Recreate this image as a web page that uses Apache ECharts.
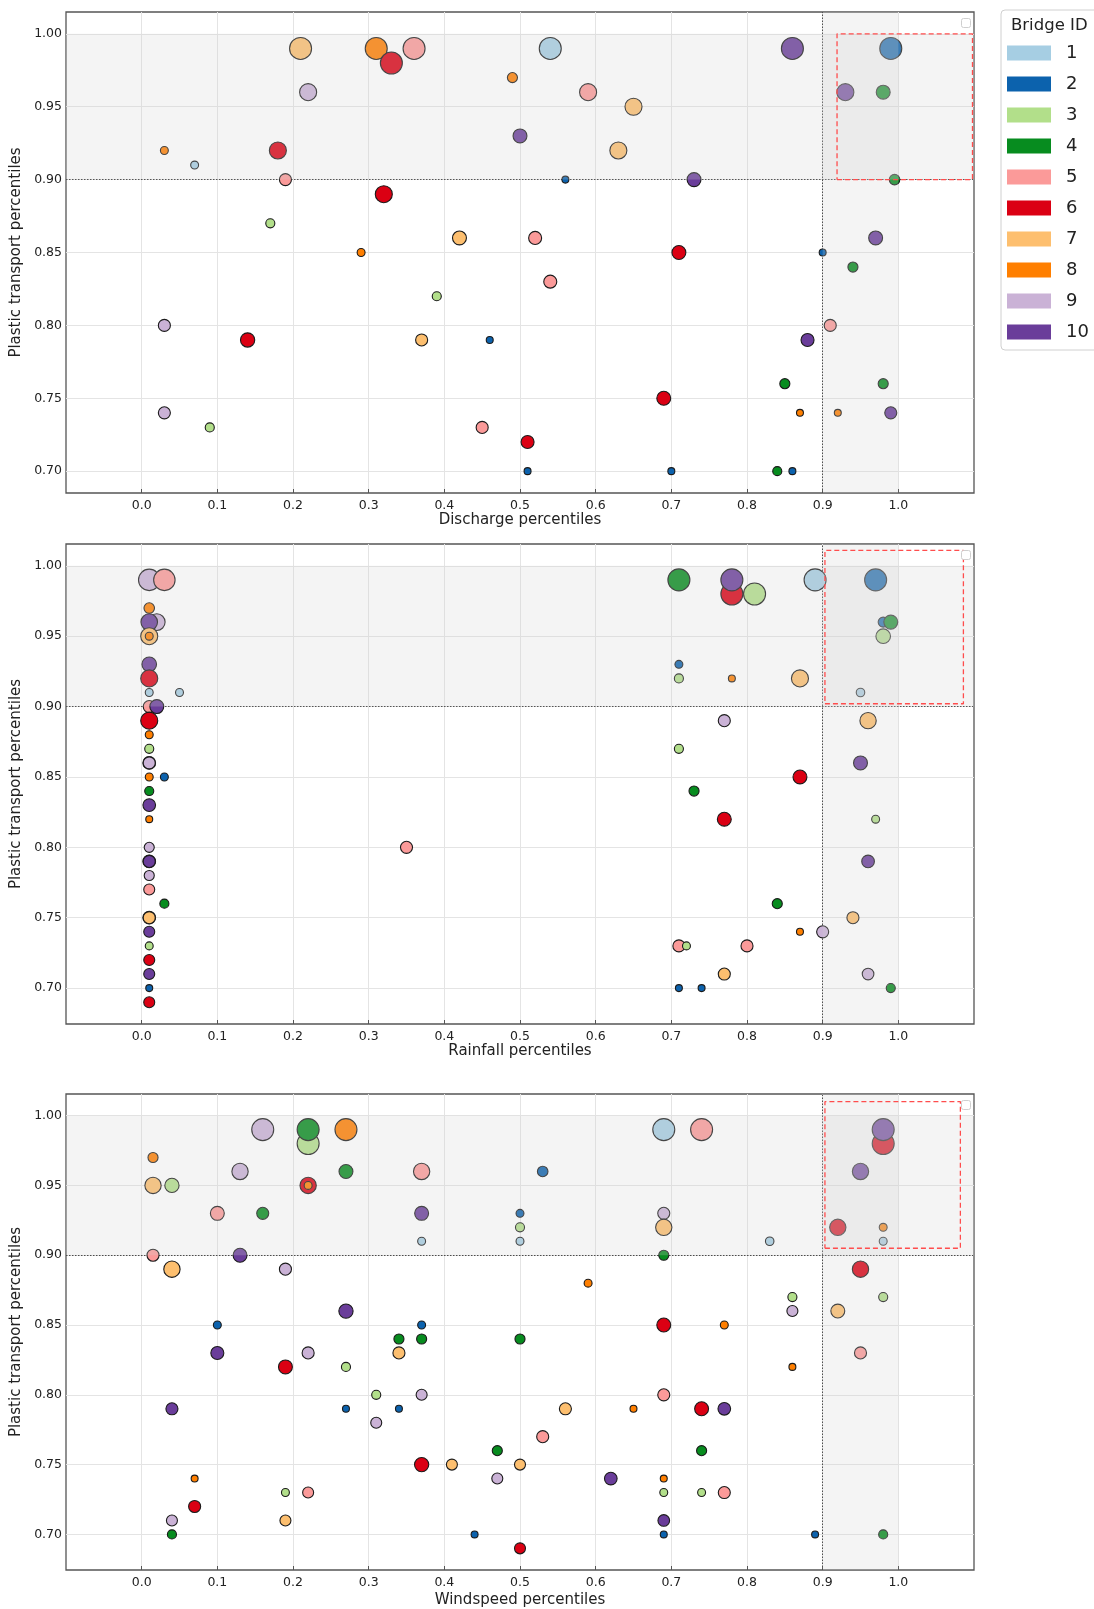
<!DOCTYPE html>
<html>
<head>
<meta charset="utf-8">
<script src="https://cdn.jsdelivr.net/npm/echarts@6/dist/echarts.min.js"></script>
<style>
  html, body { margin: 0; background: #fff; }
  #chart { width: 1094px; height: 1609px; }
</style>
</head>
<body>
<div id="chart"></div>
<script>
// Bridge colours (Paired-like palette, as in the legend)
const bridgeIds = ["1", "2", "3", "4", "5", "6", "7", "8", "9", "10"];
const bridgeColors = ["#a6cee3", "#0c62ad", "#b2df8a", "#078c1f", "#fb9a99",
                      "#db0013", "#fdbf6f", "#ff7f00", "#cab2d6", "#6a3d9a"];

const xTicks = [0.0, 0.1, 0.2, 0.3, 0.4, 0.5, 0.6, 0.7, 0.8, 0.9, 1.0];
const yTicks = [0.70, 0.75, 0.80, 0.85, 0.90, 0.95, 1.00];
const threshold = 0.9;
const bandTop = 1.0;

// [percentile, plastic transport percentile, transport load (bubble area), bridge id]
const dischargePts = [
  [0.21, 0.99, 100, 7], [0.31, 0.99, 100, 8], [0.33, 0.98, 100, 6], [0.36, 0.99, 100, 5],
  [0.54, 0.99, 100, 1], [0.86, 0.99, 100, 10], [0.99, 0.99, 100, 2], [0.49, 0.97, 21, 8],
  [0.22, 0.96, 60, 9], [0.59, 0.96, 60, 5], [0.93, 0.96, 60, 10], [0.98, 0.96, 40, 4],
  [0.65, 0.95, 60, 7], [0.50, 0.93, 40, 10], [0.03, 0.92, 13, 8], [0.18, 0.92, 60, 6],
  [0.63, 0.92, 60, 7], [0.07, 0.91, 13, 1], [0.19, 0.90, 30, 5], [0.56, 0.90, 10, 2],
  [0.73, 0.90, 40, 10], [0.995, 0.90, 23, 4], [0.32, 0.89, 60, 6], [0.17, 0.87, 17, 3],
  [0.42, 0.86, 40, 7], [0.52, 0.86, 35, 5], [0.97, 0.86, 40, 10], [0.29, 0.85, 13, 8],
  [0.71, 0.85, 40, 6], [0.90, 0.85, 10, 2], [0.94, 0.84, 21, 4], [0.54, 0.83, 35, 5],
  [0.39, 0.82, 17, 3], [0.03, 0.80, 30, 9], [0.91, 0.80, 30, 5], [0.14, 0.79, 42, 6],
  [0.37, 0.79, 30, 7], [0.46, 0.79, 10, 2], [0.88, 0.79, 35, 10], [0.85, 0.76, 21, 4],
  [0.98, 0.76, 21, 4], [0.69, 0.75, 40, 6], [0.03, 0.74, 30, 9], [0.87, 0.74, 10, 8],
  [0.92, 0.74, 10, 8], [0.99, 0.74, 30, 10], [0.09, 0.73, 17, 3], [0.45, 0.73, 30, 5],
  [0.51, 0.72, 35, 6], [0.51, 0.70, 10, 2], [0.70, 0.70, 10, 2], [0.84, 0.70, 17, 4],
  [0.86, 0.70, 10, 2]
];

const rainfallPts = [
  [0.01, 0.99, 95, 9], [0.03, 0.99, 95, 5], [0.01, 0.97, 23, 8], [0.02, 0.96, 57, 9],
  [0.01, 0.96, 57, 10], [0.01, 0.95, 60, 7], [0.01, 0.95, 13, 8], [0.01, 0.93, 44, 10],
  [0.01, 0.92, 60, 6], [0.01, 0.91, 13, 1], [0.05, 0.91, 13, 1], [0.01, 0.90, 30, 5],
  [0.02, 0.90, 40, 10], [0.01, 0.89, 60, 6], [0.01, 0.88, 13, 8], [0.01, 0.87, 17, 3],
  [0.01, 0.86, 33, 9], [0.01, 0.86, 30, 9], [0.01, 0.85, 13, 8], [0.03, 0.85, 13, 2],
  [0.01, 0.84, 17, 4], [0.01, 0.83, 33, 10], [0.01, 0.82, 10, 8], [0.01, 0.80, 21, 9],
  [0.01, 0.79, 33, 10], [0.01, 0.79, 30, 10], [0.01, 0.78, 21, 9], [0.01, 0.77, 25, 5],
  [0.03, 0.76, 17, 4], [0.01, 0.75, 33, 7], [0.01, 0.75, 30, 7], [0.01, 0.74, 25, 10],
  [0.01, 0.73, 13, 3], [0.01, 0.72, 25, 6], [0.01, 0.71, 25, 10], [0.01, 0.70, 10, 2],
  [0.01, 0.69, 25, 6], [0.35, 0.80, 30, 5],
  [0.71, 0.99, 100, 4], [0.78, 0.98, 100, 6], [0.78, 0.99, 100, 10], [0.81, 0.98, 100, 3],
  [0.89, 0.99, 100, 1], [0.97, 0.99, 100, 2], [0.98, 0.96, 21, 2], [0.99, 0.96, 40, 4],
  [0.98, 0.95, 44, 3], [0.71, 0.93, 13, 2], [0.71, 0.92, 17, 3], [0.78, 0.92, 10, 8],
  [0.87, 0.92, 60, 7], [0.95, 0.91, 15, 1], [0.77, 0.89, 30, 9], [0.96, 0.89, 55, 7],
  [0.71, 0.87, 17, 3], [0.95, 0.86, 40, 10], [0.87, 0.85, 40, 6], [0.73, 0.84, 21, 4],
  [0.77, 0.82, 40, 6], [0.97, 0.82, 13, 3], [0.96, 0.79, 33, 10], [0.84, 0.76, 21, 4],
  [0.94, 0.75, 30, 7], [0.87, 0.74, 10, 8], [0.90, 0.74, 30, 9], [0.71, 0.73, 30, 5],
  [0.72, 0.73, 13, 3], [0.80, 0.73, 30, 5], [0.77, 0.71, 30, 7], [0.96, 0.71, 28, 9],
  [0.71, 0.70, 10, 2], [0.74, 0.70, 10, 2], [0.99, 0.70, 17, 4]
];

const windspeedPts = [
  [0.015, 0.97, 21, 8], [0.015, 0.95, 55, 7], [0.04, 0.95, 42, 3], [0.16, 0.99, 100, 9],
  [0.22, 0.98, 100, 3], [0.22, 0.99, 100, 4], [0.27, 0.99, 100, 8], [0.13, 0.96, 55, 9],
  [0.27, 0.96, 40, 4], [0.37, 0.96, 55, 5], [0.22, 0.95, 55, 6], [0.22, 0.95, 13, 8],
  [0.10, 0.93, 40, 5], [0.16, 0.93, 30, 4], [0.37, 0.93, 40, 10], [0.50, 0.93, 13, 2],
  [0.50, 0.92, 17, 3], [0.37, 0.91, 13, 1], [0.50, 0.91, 13, 1], [0.015, 0.90, 30, 5],
  [0.13, 0.90, 40, 10], [0.04, 0.89, 55, 7], [0.19, 0.89, 30, 9], [0.27, 0.86, 42, 10],
  [0.10, 0.85, 13, 2], [0.37, 0.85, 13, 2], [0.34, 0.84, 21, 4], [0.37, 0.84, 21, 4],
  [0.50, 0.84, 21, 4], [0.10, 0.83, 35, 10], [0.22, 0.83, 30, 9], [0.34, 0.83, 30, 7],
  [0.19, 0.82, 40, 6], [0.27, 0.82, 17, 3], [0.31, 0.80, 17, 3], [0.37, 0.80, 25, 9],
  [0.04, 0.79, 30, 10], [0.27, 0.79, 10, 2], [0.34, 0.79, 10, 2], [0.31, 0.78, 25, 9],
  [0.47, 0.76, 21, 4], [0.37, 0.75, 42, 6], [0.41, 0.75, 25, 7], [0.50, 0.75, 25, 7],
  [0.47, 0.74, 25, 9], [0.07, 0.74, 10, 8], [0.19, 0.73, 13, 3], [0.22, 0.73, 25, 5],
  [0.07, 0.72, 30, 6], [0.04, 0.71, 25, 9], [0.19, 0.71, 25, 7], [0.04, 0.70, 17, 4],
  [0.44, 0.70, 10, 2], [0.50, 0.69, 25, 6],
  [0.53, 0.96, 23, 2], [0.69, 0.99, 100, 1], [0.74, 0.99, 100, 5], [0.69, 0.93, 30, 9],
  [0.69, 0.92, 55, 7], [0.83, 0.91, 15, 1], [0.69, 0.90, 21, 4], [0.59, 0.88, 13, 8],
  [0.86, 0.87, 17, 3], [0.86, 0.86, 25, 9], [0.69, 0.85, 40, 6], [0.77, 0.85, 13, 8],
  [0.86, 0.82, 10, 8], [0.69, 0.80, 30, 5], [0.56, 0.79, 30, 7], [0.65, 0.79, 10, 8],
  [0.74, 0.79, 40, 6], [0.77, 0.79, 33, 10], [0.53, 0.77, 30, 5], [0.74, 0.76, 21, 4],
  [0.62, 0.74, 33, 10], [0.69, 0.74, 10, 8], [0.69, 0.73, 13, 3], [0.74, 0.73, 13, 3],
  [0.77, 0.73, 30, 5], [0.69, 0.71, 28, 10], [0.69, 0.70, 10, 2], [0.89, 0.70, 10, 2],
  [0.98, 0.70, 17, 4],
  [0.98, 0.98, 100, 6], [0.98, 0.99, 100, 10], [0.95, 0.96, 55, 10], [0.92, 0.92, 55, 6],
  [0.98, 0.92, 13, 8], [0.98, 0.91, 13, 1], [0.95, 0.89, 55, 6], [0.98, 0.87, 17, 3],
  [0.92, 0.86, 40, 7], [0.95, 0.83, 30, 5]
];

// highlighted extreme-event box per panel: [x0, x1, y0, y1]
const dischargeBox = [0.919, 1.098, 0.900, 1.000];
const rainfallBox = [0.903, 1.086, 0.902, 1.011];
const windspeedBox = [0.903, 1.082, 0.905, 1.010];

const xLabels = ["Discharge percentiles", "Rainfall percentiles", "Windspeed percentiles"];
const yLabel = "Plastic transport percentiles";
const yRanges = [[0.685, 1.015], [0.6745, 1.0155], [0.6745, 1.0155]];

const FONT = "DejaVu Sans";
const panels = [
  { pts: dischargePts, box: dischargeBox, top: 12, height: 481, nameGap: 20 },
  { pts: rainfallPts, box: rainfallBox, top: 544, height: 480, nameGap: 20 },
  { pts: windspeedPts, box: windspeedBox, top: 1094, height: 481, nameGap: 23 },
];

const grid = [], xAxis = [], yAxis = [], series = [], graphic = [];

panels.forEach((p, i) => {
  grid.push({
    left: 66, width: 908, top: p.top, height: p.height,
    show: true, borderColor: "#555", borderWidth: 1.3, backgroundColor: "#fff",
  });
  xAxis.push({
    gridIndex: i, type: "value", min: -0.1, max: 1.1, interval: 0.1,
    name: xLabels[i], nameLocation: "middle", nameGap: p.nameGap,
    nameTextStyle: { fontFamily: FONT, fontSize: 15, color: "#222" },
    axisLine: { show: false },
    axisTick: { show: true, inside: true, length: 4, lineStyle: { color: "#555" },
                customValues: xTicks },
    axisLabel: { fontFamily: FONT, fontSize: 12.5, color: "#222", margin: 6,
                 customValues: xTicks, formatter: v => v.toFixed(1) },
    splitLine: { show: true, lineStyle: { color: "#e4e4e4", width: 1 } },
  });
  yAxis.push({
    gridIndex: i, type: "value", min: yRanges[i][0], max: yRanges[i][1],
    name: yLabel, nameLocation: "middle", nameGap: 37, nameRotate: 90,
    nameTextStyle: { fontFamily: FONT, fontSize: 15, color: "#222" },
    axisLine: { show: false },
    axisTick: { show: true, inside: true, length: 4, lineStyle: { color: "#555" },
                customValues: yTicks },
    axisLabel: { fontFamily: FONT, fontSize: 12.5, color: "#222", margin: 4,
                 customValues: yTicks, formatter: v => v.toFixed(2) },
    splitLine: { show: false },
  });

  // bubbles
  series.push({
    type: "scatter", xAxisIndex: i, yAxisIndex: i, z: 2,
    symbolSize: v => Math.sqrt(v[2]) * 2.2,
    data: p.pts.map(d => ({
      value: d,
      itemStyle: { color: bridgeColors[d[3] - 1], borderColor: "#1a1a1a", borderWidth: 1.1,
                   opacity: 1 },
    })),
    emphasis: { disabled: true },
  });

  // dashed box, threshold bands, threshold lines, horizontal grid lines
  const b = p.box;
  series.push({
    type: "line", xAxisIndex: i, yAxisIndex: i, z: 4, silent: true,
    symbol: "none",
    data: [[b[0], b[2]], [b[1], b[2]], [b[1], b[3]], [b[0], b[3]], [b[0], b[2]]],
    lineStyle: { color: "#ff4d4d", width: 1.3, type: [5, 3] },
    markArea: {
      silent: true, z: 3,
      itemStyle: { color: "rgba(211,211,211,0.24)" },
      data: [
        [{ yAxis: threshold }, { yAxis: bandTop }],
        [{ xAxis: threshold }, { xAxis: bandTop }],
      ],
    },
    markLine: {
      silent: true, z: 1, symbol: "none", label: { show: false },
      data: yTicks.map(t => ({ yAxis: t, lineStyle: { color: "#e4e4e4", width: 1, type: "solid" } }))
        .concat([
          { yAxis: threshold, lineStyle: { color: "#444", width: 1, type: [1.5, 1.5] } },
          { xAxis: threshold, lineStyle: { color: "#444", width: 1, type: [1.5, 1.5] } },
        ]),
    },
  });

  // empty legend placeholder square in the corner
  graphic.push({
    type: "rect", left: 961, top: p.top + 6, z: 10,
    shape: { width: 9, height: 9, r: 2 },
    style: { fill: "#fff", stroke: "#cfcfcf", lineWidth: 1 },
  });
});

// legend entries
bridgeIds.forEach((id, k) => {
  series.push({ type: "scatter", name: id, data: [],
                itemStyle: { color: bridgeColors[k], opacity: 1 } });
});

graphic.push({
  type: "text", left: 1011, top: 17, z: 10,
  style: { text: "Bridge ID", fontFamily: FONT, fontSize: 16.5, fill: "#222" },
});

const chart = echarts.init(document.getElementById("chart"));
chart.setOption({
  animation: false,
  backgroundColor: "#fff",
  grid, xAxis, yAxis, series, graphic,
  legend: {
    data: bridgeIds, orient: "vertical", left: 1001, top: 10,
    padding: [34, 40, 9, 6], itemWidth: 44, itemHeight: 15, itemGap: 13,
    icon: "rect", selectedMode: false,
    itemStyle: { borderWidth: 0, opacity: 1 },
    textStyle: { fontFamily: FONT, fontSize: 18, color: "#222", lineHeight: 15,
                 padding: [0, 0, 0, 10] },
    borderColor: "#d0d0d0", borderWidth: 1, borderRadius: 4, backgroundColor: "#fff",
  },
});
window.addEventListener("resize", () => chart.resize());
</script>
</body>
</html>
